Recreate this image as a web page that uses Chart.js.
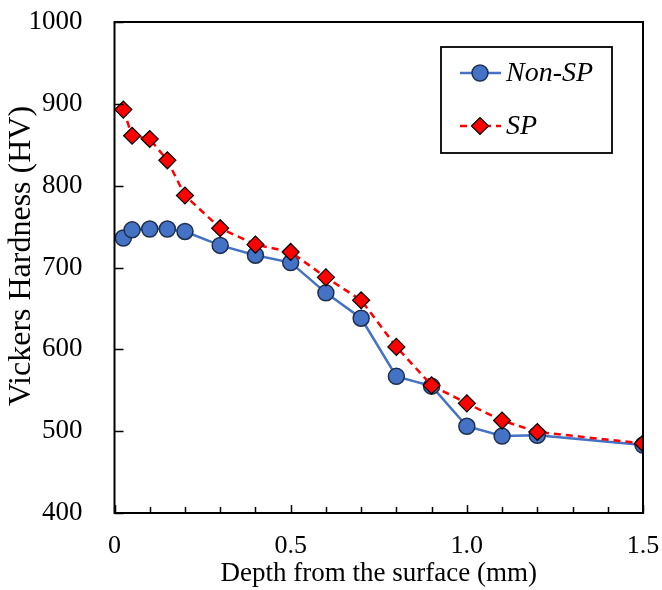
<!DOCTYPE html>
<html>
<head>
<meta charset="utf-8">
<script src="https://cdn.jsdelivr.net/npm/chart.js@4"></script>
<style>
  body { margin: 0; background: #fff; }
  canvas { display: block; }
</style>
</head>
<body>
<canvas id="hardnessChart" width="662" height="590"></canvas>
<script>
// depth from the surface (mm)
const depth = [0.025, 0.05, 0.1, 0.15, 0.2, 0.3, 0.4, 0.5, 0.6, 0.7, 0.8, 0.9, 1.0, 1.1, 1.2, 1.5];
// Vickers hardness (HV)
const nonSP = [736, 746, 747, 747, 744, 727, 715, 706, 669, 638, 567, 555, 506, 494, 495, 483];
const SP = [893, 861, 857, 831, 788, 748, 728, 719, 688, 660, 603, 556, 534, 513, 499, 485];

const xTickValues = [0, 0.5, 1.0, 1.5];
const xTickLabels = ["0", "0.5", "1.0", "1.5"];
const yTickLabels = ["400", "500", "600", "700", "800", "900", "1000"];
const yTitle = "Vickers Hardness (HV)";

const serif = "'Liberation Serif', 'Times New Roman', serif";

// no extra room for overhanging tick labels, the layout padding sets the box
function noOverhang(s) {
    s.paddingTop = 0;
    s.paddingBottom = 0;
    s.paddingLeft = 0;
    s.paddingRight = 0;
}

// frame + inward ticks + y title + boxed legend
const framePlugin = {
    id: "frame",
    afterDraw(chart) {
        const ctx = chart.ctx;
        const a = chart.chartArea;
        const x = chart.scales.x;
        const y = chart.scales.y;
        ctx.save();
        ctx.strokeStyle = "#000";
        ctx.lineWidth = 1.5;
        y.ticks.forEach(t => {
            const py = Math.round(y.getPixelForValue(t.value)) + 0.5;
            ctx.beginPath();
            ctx.moveTo(a.left, py);
            ctx.lineTo(a.left + 9, py);
            ctx.stroke();
        });
        x.ticks.forEach(t => {
            const px = Math.round(x.getPixelForValue(t.value)) + 0.5;
            const major = xTickValues.some(v => Math.abs(v - t.value) < 1e-6);
            ctx.beginPath();
            ctx.moveTo(px, a.bottom);
            ctx.lineTo(px, a.bottom - (major ? 8 : 6));
            ctx.stroke();
        });
        ctx.lineWidth = 2;
        ctx.strokeRect(a.left, a.top, a.right - a.left, a.bottom - a.top);

        // y axis title, sits a bit above the middle of the axis
        ctx.save();
        ctx.translate(22, 256);
        ctx.rotate(-Math.PI / 2);
        ctx.fillStyle = "#000";
        ctx.font = "32px " + serif;
        ctx.textAlign = "center";
        ctx.textBaseline = "middle";
        ctx.fillText(yTitle, 0, 0);
        ctx.restore();

        // legend
        const box = { left: 441, top: 47, right: 612, bottom: 153 };
        ctx.lineWidth = 1.8;
        ctx.strokeRect(box.left, box.top, box.right - box.left, box.bottom - box.top);
        const rows = [73, 126];
        chart.data.datasets.forEach((ds, i) => {
            const ly = rows[i];
            ctx.save();
            ctx.strokeStyle = ds.borderColor;
            ctx.lineWidth = ds.borderWidth;
            ctx.setLineDash(ds.borderDash || []);
            ctx.beginPath();
            ctx.moveTo(460, ly);
            ctx.lineTo(501, ly);
            ctx.stroke();
            ctx.restore();
            ctx.save();
            ctx.fillStyle = ds.pointBackgroundColor;
            ctx.strokeStyle = ds.pointBorderColor;
            ctx.lineWidth = ds.pointBorderWidth;
            Chart.helpers.drawPoint(ctx, { pointStyle: ds.pointStyle, radius: ds.pointRadius, borderWidth: ds.pointBorderWidth, rotation: 0 }, 480, ly);
            ctx.restore();
            ctx.fillStyle = "#000";
            ctx.font = "italic 28px " + serif;
            ctx.textBaseline = "middle";
            ctx.fillText(ds.label, 506, ly + 1);
        });
        ctx.restore();
    }
};

const ctx = document.getElementById("hardnessChart").getContext("2d");
new Chart(ctx, {
    type: "line",
    data: {
        datasets: [
            {
                label: "Non-SP",
                data: depth.map((d, i) => ({ x: d, y: nonSP[i] })),
                borderColor: "#4472C4",
                borderWidth: 2.5,
                pointStyle: "circle",
                pointRadius: 8,
                pointBackgroundColor: "#4472C4",
                pointBorderColor: "#1F2F4F",
                pointBorderWidth: 1.5,
                tension: 0,
                order: 1
            },
            {
                label: "SP",
                data: depth.map((d, i) => ({ x: d, y: SP[i] })),
                borderColor: "#FF0000",
                borderWidth: 2.5,
                borderDash: [7, 5],
                pointStyle: "rectRot",
                pointRadius: 8.5,
                pointBackgroundColor: "#FF0000",
                pointBorderColor: "#000",
                pointBorderWidth: 1.2,
                tension: 0,
                order: 0
            }
        ]
    },
    options: {
        responsive: false,
        animation: false,
        layout: { padding: { top: 22, right: 19, left: 0, bottom: 0 } },
        plugins: {
            legend: { display: false },
            tooltip: { enabled: false }
        },
        scales: {
            x: {
                type: "linear",
                min: 0,
                max: 1.5,
                afterFit: s => { s.height = 77; noOverhang(s); },
                grid: { display: false, drawTicks: false },
                border: { display: false },
                ticks: {
                    stepSize: 0.1,
                    autoSkip: false,
                    maxRotation: 0,
                    padding: 18,
                    color: "#000",
                    font: { family: serif, size: 26 },
                    callback: v => {
                        const i = xTickValues.findIndex(t => Math.abs(t - v) < 1e-6);
                        return i >= 0 ? xTickLabels[i] : "";
                    }
                },
                title: {
                    display: true,
                    text: "Depth from the surface (mm)",
                    color: "#000",
                    font: { family: serif, size: 27 },
                    padding: { top: 0, bottom: 0 }
                }
            },
            y: {
                min: 400,
                max: 1000,
                afterFit: s => { s.width = 114.5; noOverhang(s); },
                grid: { display: false, drawTicks: false },
                border: { display: false },
                ticks: {
                    stepSize: 100,
                    padding: 32,
                    color: "#000",
                    font: { family: serif, size: 27 },
                    callback: (v, i) => yTickLabels[i]
                }
            }
        }
    },
    plugins: [framePlugin]
});
</script>
</body>
</html>
